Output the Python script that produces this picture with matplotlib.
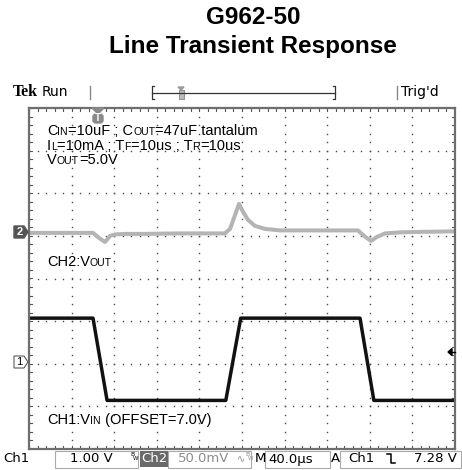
import matplotlib
matplotlib.use('Agg')
import matplotlib.pyplot as plt
import numpy as np
from matplotlib.lines import Line2D
from matplotlib.patches import Rectangle, Polygon, FancyBboxPatch
from matplotlib.offsetbox import TextArea, HPacker, AnnotationBbox

# ---- data ----
# CH1: input voltage (V), 1 V/div, offset 7.0 V
ch1_t = [-64.8, -4.7, 8.5, 120.0, 134.0, 246.0, 259.0, 335.2]
ch1_v = [8.03, 8.03, 6.10, 6.10, 8.03, 8.03, 6.10, 6.10]
# CH2: output voltage deviation (mV), 50 mV/div, AC coupled
ch2_t = [-64.8, -4.7, 0.9, 6.6, 11.3, 16.0, 25.4, 39.4, 77.0, 119.2, 124.0,
         128.7, 132.4, 136.2, 140.8, 147.4, 156.8, 170.9, 244.1, 249.8,
         256.3, 262.0, 269.5, 283.6, 302.3, 335.2]
ch2_mv = [0.0, 0.0, -5.9, -10.6, -3.5, -1.8, -1.2, -1.2, -0.6, -0.6, 4.7,
          21.1, 34.0, 24.7, 15.3, 8.2, 4.7, 2.9, 2.9, -3.5,
          -9.4, -4.7, -0.6, 0.6, 1.2, 1.8]

ch1_offset = 7.0      # V
ch1_pos = -1.96       # div
ch2_pos = 1.07        # div
volts_per_div = 1.0
mv_per_div = 50.0
t_left = -64.8
us_per_div = 40.0

W, H = 462, 470
fig = plt.figure(figsize=(W / 100, H / 100), dpi=100)
plt.rcParams['font.family'] = ['Liberation Sans', 'DejaVu Sans']


def px(x, y):
    return (x / W, 1 - y / H)


def fline(xs, ys, **kw):
    fx = [x / W for x in xs]
    fy = [1 - y / H for y in ys]
    fig.add_artist(Line2D(fx, fy, transform=fig.transFigure, **kw))


# title
fig.text(*px(253, 18), 'G962-50', ha='center', va='center', fontsize=17.5, fontweight='bold')
fig.text(*px(253, 47), 'Line Transient Response', ha='center', va='center', fontsize=17.5, fontweight='bold')

# scope screen
ax = fig.add_axes([29 / W, 1 - 449 / H, 426 / W, 341 / H])
ax.set_xlim(t_left, t_left + 10 * us_per_div)
ax.set_ylim(-4, 4)
ax.set_xticks([])
ax.set_yticks([])
for s in ax.spines.values():
    s.set_color('#6e6e6e')
    s.set_linewidth(1.6)

# dotted graticule
gx = [t_left + us_per_div * k for k in range(1, 10)]
gy = list(range(-3, 4))
minor_y = np.arange(-4, 4.01, 0.2)
minor_x = np.arange(t_left, t_left + 400.01, us_per_div / 5)
for x in gx:
    ax.plot([x] * len(minor_y), minor_y, ls='none', marker='s', ms=1.0, color='#4a4a4a', mew=0)
for y in gy:
    ax.plot(minor_x, [y] * len(minor_x), ls='none', marker='s', ms=1.0, color='#4a4a4a', mew=0)
# minor ticks on border
for y in minor_y:
    ax.plot([t_left, t_left + 2.5], [y, y], color='#555555', lw=0.8)
    ax.plot([t_left + 400 - 2.5, t_left + 400], [y, y], color='#555555', lw=0.8)
for x in minor_x:
    ax.plot([x, x], [-4, -3.94], color='#555555', lw=0.8)
    ax.plot([x, x], [3.94, 4], color='#555555', lw=0.8)

# traces
ch2_div = [m / mv_per_div + ch2_pos for m in ch2_mv]
ax.plot(ch2_t, ch2_div, color='#b4b4b4', lw=2.9, solid_joinstyle='round')
ch1_div = [(v - ch1_offset) / volts_per_div + ch1_pos for v in ch1_v]
ax.plot(ch1_t, ch1_div, color='#111111', lw=2.5, solid_joinstyle='round')


# mixed-size labels (small caps subscripts)
def mixed(x, y, parts):
    boxes = [TextArea(s, textprops=dict(fontsize=fs, color='black',
                                        family=['Liberation Sans', 'DejaVu Sans']))
             for s, fs in parts]
    pack = HPacker(children=boxes, align='baseline', pad=0, sep=0)
    ab = AnnotationBbox(pack, px(x, y), xycoords='figure fraction',
                        box_alignment=(0, 0.5), frameon=False, pad=0)
    fig.add_artist(ab)


big, sm = 10.5, 7.6
mixed(47, 131, [('C', big), ('IN', sm), ('=10uF ; C', big), ('OUT', sm), ('=47uF tantalum', big)])
mixed(47, 146, [('I', big), ('L', sm), ('=10mA ; T', big), ('F', sm), ('=10us ; T', big), ('R', sm), ('=10us', big)])
mixed(47, 160, [('V', big), ('OUT', sm), ('=5.0V', big)])
mixed(47, 262, [('CH2:V', big), ('OUT', sm)])
mixed(47, 420, [('CH1:V', big), ('IN', sm), (' (OFFSET=7.0V)', big)])

# header
fig.text(*px(13, 92), 'Tek', fontsize=11.5, fontweight='bold', family='Liberation Serif', va='center')
fig.text(*px(42, 92), 'Run', fontsize=10, family='DejaVu Sans', va='center')
fline([90, 90], [86, 99], color='#888888', lw=1)
fline([397, 397], [86, 99], color='#888888', lw=1)
fig.text(*px(401, 92), "Trig'd", fontsize=10, family='DejaVu Sans', va='center')
fline([154, 152, 152, 154], [86, 86, 99, 99], color='#333333', lw=0.9)
fline([333, 335, 335, 333], [86, 86, 99, 99], color='#333333', lw=0.9)
fline([152, 335], [93, 93], color='#333333', lw=0.9)
fig.add_artist(Polygon([px(178, 87), px(184, 87), px(181, 90)], closed=True,
                       transform=fig.transFigure, color='#999999'))
fig.add_artist(Rectangle(px(178.5, 99), 5 / W, 9 / H, transform=fig.transFigure,
                         facecolor='#bbbbbb', edgecolor='#888888', lw=0.6))

# trigger position marker
fig.add_artist(Polygon([px(92, 108), px(104, 108), px(98, 114)], closed=True,
                       transform=fig.transFigure, color='#8a8a8a'))
fig.add_artist(FancyBboxPatch(px(93, 123), 10 / W, 9 / H, boxstyle='round,pad=0,rounding_size=0.006',
                              transform=fig.transFigure, color='#8a8a8a'))
fig.text(*px(98, 118), 'T', fontsize=7, fontweight='bold', color='white', ha='center', va='center')

# channel ground markers
fig.add_artist(Polygon([px(14, 226), px(24, 226), px(28, 232), px(24, 238), px(14, 238)], closed=True,
                       transform=fig.transFigure, color='#555555'))
fig.text(*px(19.5, 232), '2', fontsize=8, fontweight='bold', color='white', ha='center', va='center')
fig.add_artist(Polygon([px(14, 356), px(24, 356), px(28, 362), px(24, 368), px(14, 368)], closed=True,
                       transform=fig.transFigure, facecolor='white', edgecolor='#444444', lw=0.7))
fig.text(*px(19.5, 362), '1', fontsize=8, color='black', ha='center', va='center')

# trigger level arrow
fig.add_artist(Polygon([px(448, 352), px(452, 348.5), px(452, 355.5)], closed=True,
                       transform=fig.transFigure, color='black'))
fline([452, 455], [352, 352], color='black', lw=1)

# status bar
fs = 9.5
sb_y = 459
fig.text(*px(3, sb_y), 'Ch1', fontsize=fs, family='DejaVu Sans', va='center')
for x0, x1 in [(55, 138), (168, 251), (265, 330), (340, 461)]:
    fig.add_artist(Rectangle(px(x0, 468), (x1 - x0) / W, 17 / H, transform=fig.transFigure,
                             facecolor='none', edgecolor='#aaaaaa', lw=0.8))
fig.text(*px(70, sb_y), '1.00 V', fontsize=fs, family='DejaVu Sans', va='center')
fig.text(*px(130, 455), 'B', fontsize=4.5, family='DejaVu Sans', va='center')
fig.text(*px(133, 459), 'W', fontsize=4, family='DejaVu Sans', va='center')
fig.add_artist(Rectangle(px(140, 467), 28 / W, 16 / H, transform=fig.transFigure,
                         facecolor='#6a6a6a', edgecolor='none'))
fig.text(*px(154, sb_y), 'Ch2', fontsize=fs, family='DejaVu Sans', va='center', ha='center', color='white')
fig.text(*px(178, sb_y), '50.0mV', fontsize=fs, family='DejaVu Sans', va='center', color='#8c8c8c')
fig.text(*px(237, sb_y), '∿', fontsize=7, family='DejaVu Sans', va='center', color='#8c8c8c')
fig.text(*px(245, 455), 'B', fontsize=4.5, family='DejaVu Sans', va='center', color='#8c8c8c')
fig.text(*px(248, 459), 'W', fontsize=4, family='DejaVu Sans', va='center', color='#8c8c8c')
fig.text(*px(255, sb_y), 'M', fontsize=fs, family='DejaVu Sans', va='center')
fig.text(*px(268, sb_y), '40.0µs', fontsize=fs, family='DejaVu Sans', va='center')
fig.text(*px(331, sb_y), 'A', fontsize=fs, family='DejaVu Sans', va='center')
fig.text(*px(348, sb_y), 'Ch1', fontsize=fs, family='DejaVu Sans', va='center')
fline([387, 391, 391, 395], [454, 454, 463, 463], color='black', lw=1.1)
fig.text(*px(457, sb_y), '7.28 V', fontsize=fs, family='DejaVu Sans', va='center', ha='right')

fig.savefig('out.png', dpi=100)
